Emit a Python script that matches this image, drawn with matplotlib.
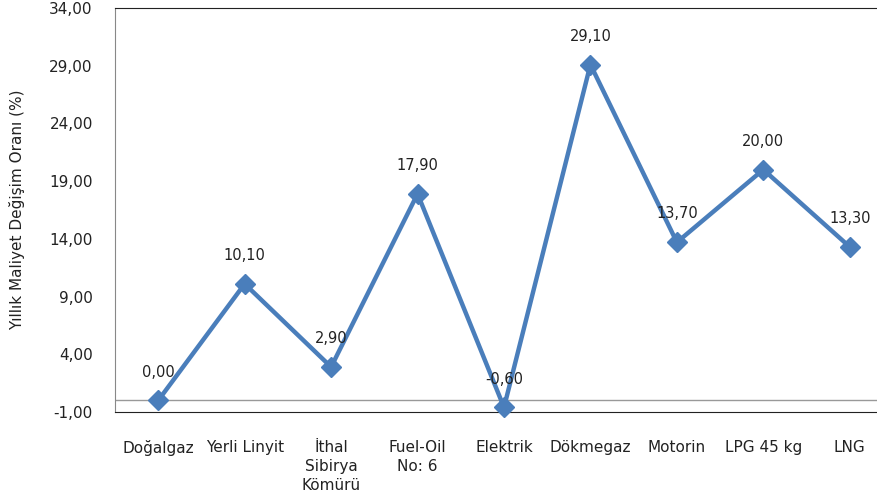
import matplotlib
matplotlib.use("Agg")
import matplotlib.pyplot as plt
from matplotlib.ticker import FuncFormatter

categories = ["Doğalgaz", "Yerli Linyit", "İthal\nSibirya\nKömürü", "Fuel-Oil\nNo: 6",
              "Elektrik", "Dökmegaz", "Motorin", "LPG 45 kg", "LNG"]
values = [0.00, 10.10, 2.90, 17.90, -0.60, 29.10, 13.70, 20.00, 13.30]
yticks = [-1, 4, 9, 14, 19, 24, 29, 34]

plt.rcParams["font.family"] = "DejaVu Sans"

fig = plt.figure(figsize=(8.77, 4.96), dpi=100)
# the plot area runs a bit past the right edge of the picture
ax = fig.add_axes([115 / 877, 1 - 412 / 496, 778 / 877, 404 / 496])

x = list(range(len(categories)))
ax.plot(x, values, color="#4A7EBB", lw=3.2, marker="D", ms=10, zorder=3, clip_on=False)

for xi, v in zip(x, values):
    ax.annotate("{:.2f}".format(v).replace(".", ","), (xi, v), xytext=(0, 15),
                textcoords="offset points", ha="center", va="bottom",
                fontsize=10.5, color="#222222", zorder=4)

ax.axhline(0, color="#999999", lw=1, zorder=1)

ax.set_xlim(-0.5, len(categories) - 0.5)
ax.set_ylim(yticks[0], yticks[-1])
ax.set_yticks(yticks)
ax.yaxis.set_major_formatter(FuncFormatter(lambda v, p: "{:.2f}".format(v).replace(".", ",")))
ax.set_xticks(x)
ax.set_xticklabels(categories, linespacing=1.35)

ax.tick_params(axis="y", length=0, pad=16, labelsize=11, labelcolor="#222222")
ax.tick_params(axis="x", length=0, pad=20, labelsize=11, labelcolor="#222222")

ax.spines["top"].set_color("#222222")
ax.spines["bottom"].set_color("#222222")
ax.spines["left"].set_color("#888888")
ax.spines["right"].set_visible(False)

ax.set_ylabel("Yıllık Maliyet Değişim Oranı (%)", fontsize=11, color="#222222")
ax.yaxis.set_label_coords(-0.115, 0.5)

fig.savefig("out.png", dpi=100)
